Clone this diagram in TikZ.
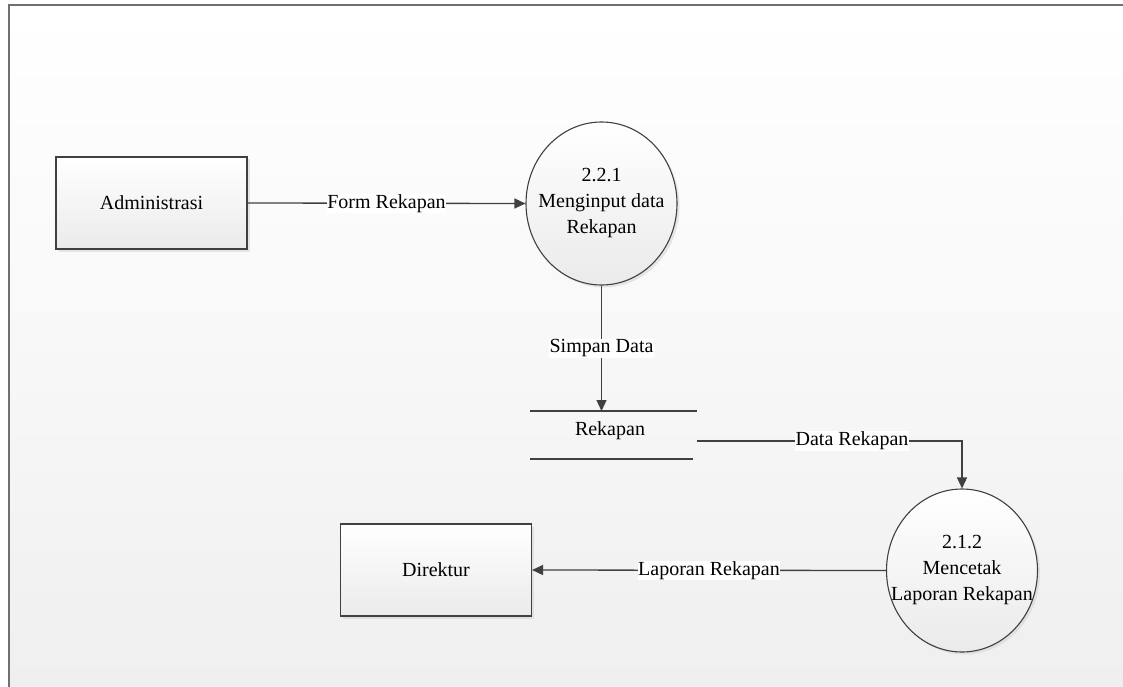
\documentclass[tikz,border=0pt]{standalone}
\usepackage{fontspec}
\setmainfont{Liberation Serif}
\usetikzlibrary{shapes.geometric,arrows.meta,shadows}
\definecolor{linec}{HTML}{404040}
\definecolor{framec}{HTML}{707070}
\definecolor{bgbot}{HTML}{EFEFEF}
\begin{document}
\begin{tikzpicture}[x=1pt,y=-1pt,
  every node/.style={font=\fontsize{20}{26}\selectfont, text=black},
  entity/.style={draw=linec, line width=1.1pt, rectangle, minimum width=191pt, minimum height=92pt,
    inner sep=0pt, top color=white, bottom color=black!8,
    drop shadow={shadow xshift=2.5pt, shadow yshift=-2.5pt, fill=black!18}},
  proc/.style={draw=linec, line width=1.1pt, ellipse, minimum width=151pt, minimum height=163pt,
    inner sep=0pt, top color=white, bottom color=black!8,
    drop shadow={shadow xshift=2.5pt, shadow yshift=-2.5pt, fill=black!18}},
  proctext/.style={align=center, inner sep=0pt},
  flow/.style={draw=linec, line width=1.3pt, -{Triangle[length=11pt,width=10pt]}},
  flowlabel/.style={fill=white, inner sep=0.5pt},
  storeline/.style={draw=linec, line width=1.3pt}
]
\useasboundingbox (0,0) rectangle (1123,687);
% background
\shade[top color=white, bottom color=bgbot, middle color=white!55!bgbot] (9,5) rectangle (1123,687);
\draw[framec, line width=1.6pt] (9,687) -- (9,5) -- (1123,5);

% nodes
\node[entity] (adm) at (151.5,203) {Administrasi};
\node[entity] (dir) at (436,570) {Direktur};
\node[proc] (p1) at (601.5,203.5) {};
\node[proctext] (p1t) at (p1.center) {2.2.1\\Menginput data\\Rekapan};
\node[proc] (p2) at (962,570.5) {};
\node[proctext] (p2t) at (p2.center) {2.1.2\\Mencetak\\Laporan Rekapan};

% data store
\coordinate (stTL) at (530,411);
\coordinate (stTR) at (697,411);
\coordinate (stBL) at (530,459);
\coordinate (stBR) at (693,459);
\coordinate (stOut) at (697,441);
\node (store) at (610,431) {Rekapan};
\draw[storeline] (stTL) -- (stTR);
\draw[storeline] (stBL) -- (stBR);
\coordinate (stIn) at (p1.south |- stTL);

% flows
\draw[flow] (adm.east) -- node[flowlabel, pos=0.5] {Form Rekapan} (p1.west);
\draw[flow] (p1.south) -- node[flowlabel, pos=0.5] {Simpan Data} (stIn);
\draw[flow] (stOut) -- node[flowlabel, pos=0.585] {Data Rekapan} (stOut -| p2.north) -- (p2.north);
\draw[flow] (p2.west) -- node[flowlabel, pos=0.5] {Laporan Rekapan} (dir.east);
\end{tikzpicture}
\end{document}
